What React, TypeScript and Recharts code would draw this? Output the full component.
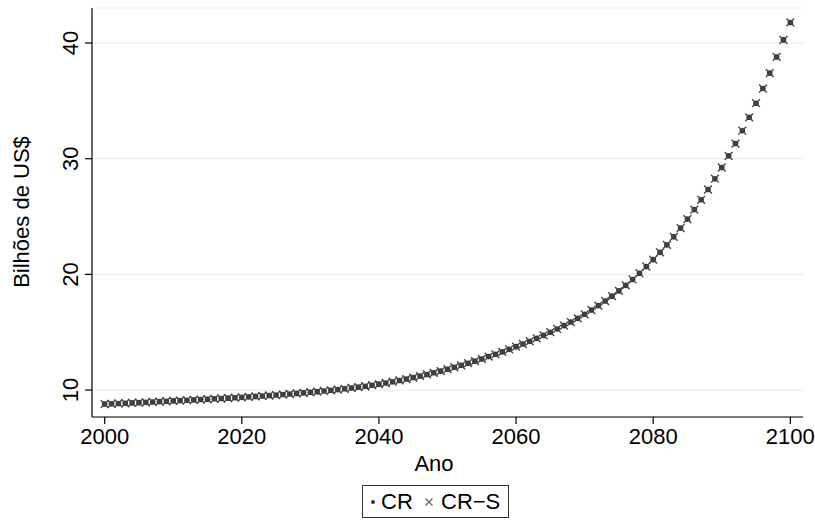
import React from 'react';
import { ScatterChart, Scatter, XAxis, YAxis, CartesianGrid, Legend, Label } from 'recharts';

const years = [
  2000, 2001, 2002, 2003, 2004, 2005, 2006, 2007, 2008, 2009,
  2010, 2011, 2012, 2013, 2014, 2015, 2016, 2017, 2018, 2019,
  2020, 2021, 2022, 2023, 2024, 2025, 2026, 2027, 2028, 2029,
  2030, 2031, 2032, 2033, 2034, 2035, 2036, 2037, 2038, 2039,
  2040, 2041, 2042, 2043, 2044, 2045, 2046, 2047, 2048, 2049,
  2050, 2051, 2052, 2053, 2054, 2055, 2056, 2057, 2058, 2059,
  2060, 2061, 2062, 2063, 2064, 2065, 2066, 2067, 2068, 2069,
  2070, 2071, 2072, 2073, 2074, 2075, 2076, 2077, 2078, 2079,
  2080, 2081, 2082, 2083, 2084, 2085, 2086, 2087, 2088, 2089,
  2090, 2091, 2092, 2093, 2094, 2095, 2096, 2097, 2098, 2099,
  2100,
];

const crValues = [
  8.79, 8.81, 8.84, 8.86, 8.89, 8.91, 8.94, 8.97, 9.0, 9.03,
  9.06, 9.09, 9.12, 9.15, 9.18, 9.21, 9.24, 9.27, 9.3, 9.34,
  9.37, 9.41, 9.45, 9.49, 9.53, 9.57, 9.61, 9.66, 9.71, 9.76,
  9.81, 9.86, 9.92, 9.98, 10.04, 10.11, 10.18, 10.25, 10.33, 10.42,
  10.51, 10.61, 10.72, 10.83, 10.95, 11.08, 11.21, 11.35, 11.49, 11.64,
  11.8, 11.97, 12.14, 12.32, 12.5, 12.69, 12.89, 13.09, 13.3, 13.52,
  13.75, 13.98, 14.22, 14.47, 14.73, 15.0, 15.28, 15.57, 15.88, 16.2,
  16.55, 16.92, 17.3, 17.7, 18.12, 18.57, 19.05, 19.56, 20.1, 20.68,
  21.28, 21.9, 22.55, 23.25, 24.0, 24.78, 25.6, 26.45, 27.34, 28.27,
  29.24, 30.25, 31.31, 32.42, 33.58, 34.8, 36.07, 37.4, 38.8, 40.27,
  41.78,
];

const crsValues = [
  8.79, 8.81, 8.84, 8.86, 8.89, 8.91, 8.94, 8.97, 9.0, 9.03,
  9.06, 9.09, 9.12, 9.15, 9.18, 9.21, 9.24, 9.27, 9.3, 9.34,
  9.37, 9.41, 9.45, 9.49, 9.53, 9.57, 9.61, 9.66, 9.71, 9.76,
  9.81, 9.86, 9.92, 9.98, 10.04, 10.11, 10.18, 10.25, 10.33, 10.42,
  10.51, 10.61, 10.72, 10.83, 10.95, 11.08, 11.21, 11.35, 11.49, 11.64,
  11.8, 11.97, 12.14, 12.32, 12.5, 12.69, 12.89, 13.09, 13.3, 13.52,
  13.75, 13.98, 14.22, 14.47, 14.73, 15.0, 15.28, 15.57, 15.88, 16.2,
  16.55, 16.92, 17.3, 17.7, 18.12, 18.57, 19.05, 19.56, 20.1, 20.68,
  21.28, 21.9, 22.55, 23.25, 24.0, 24.78, 25.6, 26.45, 27.34, 28.27,
  29.24, 30.25, 31.31, 32.42, 33.58, 34.8, 36.07, 37.4, 38.8, 40.27,
  41.78,
];

const xTicks = [2000, 2020, 2040, 2060, 2080, 2100];
const yTicks = [10, 20, 30, 40];
const seriesNames = ['CR', 'CR\u2212S'];
const xTitle = 'Ano';
const yTitle = 'Bilh\u00f5es de US$';

const FONT = '"Liberation Sans", Arial, Helvetica, sans-serif';
const FS = 22;

const crData = years.map((year, i) => ({ x: year, y: crValues[i] }));
const crsData = years.map((year, i) => ({ x: year, y: crsValues[i] }));

const DotShape = (props: any) => {
  const { cx, cy } = props;
  if (cx == null || cy == null) return null;
  return <circle cx={cx} cy={cy} r={2.8} fill="#333" />;
};

const CrossShape = (props: any) => {
  const { cx, cy } = props;
  if (cx == null || cy == null) return null;
  const s = 3.9;
  return (
    <g stroke="#444" strokeWidth={1.4}>
      <line x1={cx - s} y1={cy - s} x2={cx + s} y2={cy + s} />
      <line x1={cx - s} y1={cy + s} x2={cx + s} y2={cy - s} />
    </g>
  );
};

const XTick = (props: any) => {
  const { x, y, payload } = props;
  return (
    <text x={x} y={y} dy={19} textAnchor="middle" fontSize={FS} fontFamily={FONT} fill="#000">
      {payload.value}
    </text>
  );
};

const YTick = (props: any) => {
  const { y, payload } = props;
  const bx = 78;
  return (
    <text
      x={bx}
      y={y}
      transform={`rotate(-90, ${bx}, ${y})`}
      textAnchor="middle"
      fontSize={FS}
      fontFamily={FONT}
      fill="#000"
    >
      {payload.value}
    </text>
  );
};

const LegendBox = () => (
  <div
    style={{
      position: 'relative',
      boxSizing: 'border-box',
      width: 147,
      height: 33,
      border: '1px solid #333',
      background: '#fff',
      fontFamily: FONT,
      fontSize: FS,
      color: '#000',
    }}
  >
    <svg width={147} height={33} style={{ position: 'absolute', left: -1, top: -1 }}>
      <circle cx={11} cy={17} r={2} fill="#333" />
      <g stroke="#666" strokeWidth={1.2}>
        <line x1={63.5} y1={13.5} x2={70.5} y2={20.5} />
        <line x1={63.5} y1={20.5} x2={70.5} y2={13.5} />
      </g>
    </svg>
    <span style={{ position: 'absolute', left: 18, top: 3, lineHeight: '26px' }}>{seriesNames[0]}</span>
    <span style={{ position: 'absolute', left: 78, top: 3, lineHeight: '26px' }}>{seriesNames[1]}</span>
  </div>
);

export default function App() {
  return (
    <div style={{ position: 'absolute', left: 0, top: 0, width: 815, height: 524, background: '#fff' }}>
      <ScatterChart
        width={815}
        height={524}
        margin={{ top: 8, right: 12, bottom: 77, left: 52 }}
        style={{ fontFamily: FONT }}
      >
        <CartesianGrid vertical={false} stroke="#e6eff0" strokeWidth={1.2} />
        <XAxis
          type="number"
          dataKey="x"
          domain={[1998.15, 2101.85]}
          allowDataOverflow
          ticks={xTicks}
          height={30}
          tick={<XTick />}
          tickSize={7}
          tickMargin={1}
          axisLine={{ stroke: '#000', strokeWidth: 1.2 }}
          tickLine={{ stroke: '#000', strokeWidth: 1.2 }}
          interval={0}
        >
          <Label
            content={() => (
              <text x={434} y={471} textAnchor="middle" fontSize={FS} fontFamily={FONT} fill="#000">
                {xTitle}
              </text>
            )}
          />
        </XAxis>
        <YAxis
          type="number"
          dataKey="y"
          domain={[7.67, 43.03]}
          allowDataOverflow
          ticks={yTicks}
          width={40}
          tick={<YTick />}
          tickSize={7}
          axisLine={{ stroke: '#000', strokeWidth: 1.2 }}
          tickLine={{ stroke: '#000', strokeWidth: 1.2 }}
          interval={0}
        >
          <Label
            content={() => (
              <text
                x={29}
                y={212}
                transform="rotate(-90, 29, 212)"
                textAnchor="middle"
                fontSize={FS}
                fontFamily={FONT}
                fill="#000"
              >
                {yTitle}
              </text>
            )}
          />
        </YAxis>
        <Legend
          layout="horizontal"
          verticalAlign="middle"
          align="center"
          content={<LegendBox />}
          wrapperStyle={{ position: 'absolute', left: 362, top: 485, width: 147, height: 33 }}
        />
        <Scatter name={seriesNames[0]} data={crData} shape={<DotShape />} isAnimationActive={false} />
        <Scatter name={seriesNames[1]} data={crsData} shape={<CrossShape />} isAnimationActive={false} />
      </ScatterChart>
    </div>
  );
}
